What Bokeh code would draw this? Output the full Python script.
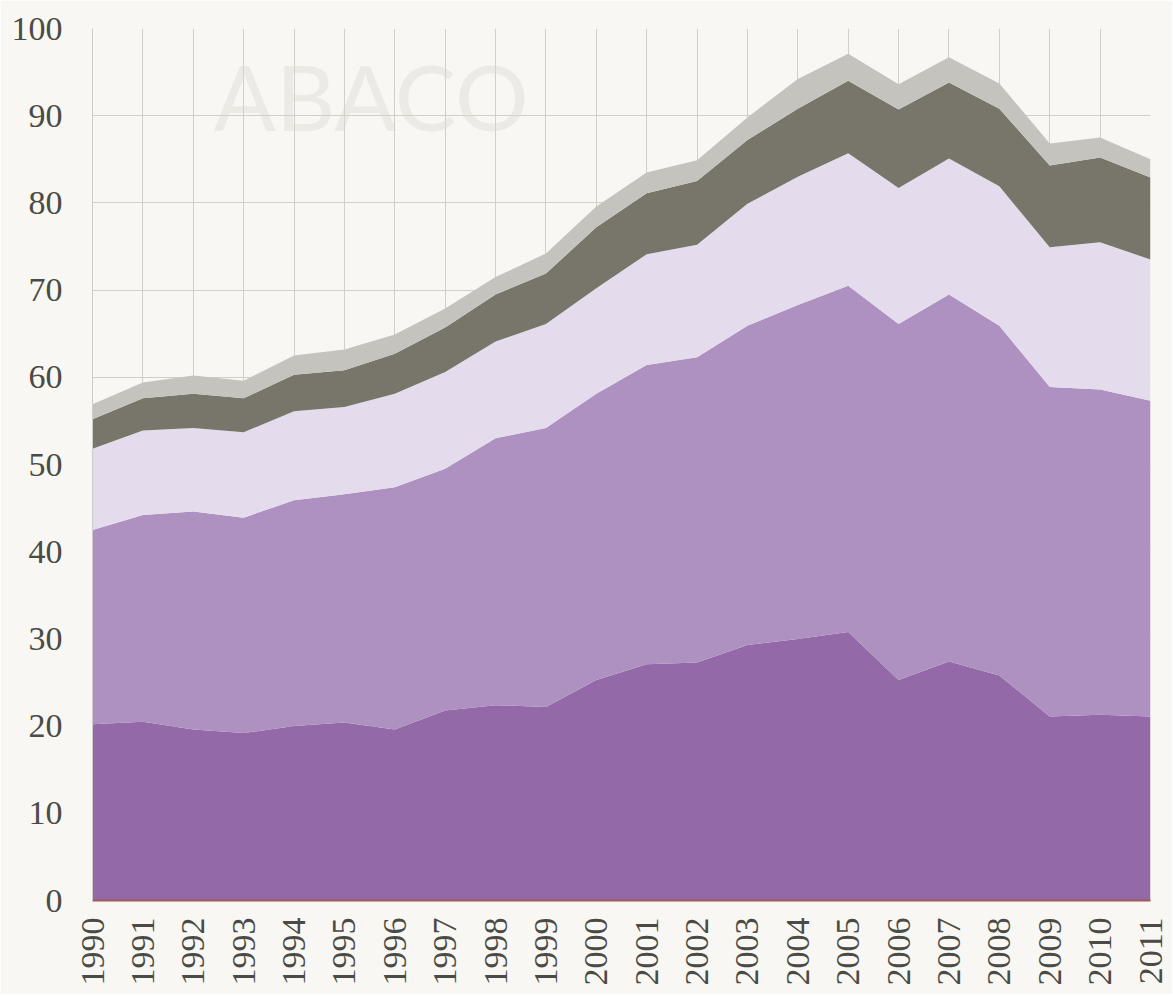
import math
from bokeh.plotting import figure
from bokeh.models import ColumnDataSource, FixedTicker, Range1d, Label
from bokeh.embed import file_html
from bokeh.resources import INLINE

# ---- data ----
years = list(range(1990, 2012))
year_labels = [str(y) for y in years]
y_ticks = [0, 10, 20, 30, 40, 50, 60, 70, 80, 90, 100]

series_a = [20.2, 20.5, 19.6, 19.2, 20.0, 20.4, 19.6, 21.8, 22.4, 22.2, 25.3,
            27.1, 27.3, 29.3, 30.0, 30.8, 25.3, 27.4, 25.8, 21.1, 21.3, 21.1]
series_b = [22.3, 23.7, 25.0, 24.7, 25.9, 26.2, 27.8, 27.7, 30.6, 32.0, 32.8,
            34.3, 35.0, 36.6, 38.3, 39.7, 40.8, 42.1, 40.1, 37.8, 37.3, 36.2]
series_c = [9.3, 9.7, 9.6, 9.8, 10.2, 10.0, 10.7, 11.1, 11.1, 11.9, 12.1,
            12.7, 12.9, 14.0, 14.7, 15.2, 15.6, 15.6, 16.0, 16.0, 16.9, 16.2]
series_d = [3.4, 3.7, 3.9, 3.9, 4.2, 4.2, 4.6, 5.1, 5.4, 5.8, 7.0,
            7.0, 7.3, 7.3, 7.8, 8.3, 9.0, 8.7, 8.9, 9.4, 9.7, 9.4]
series_e = [1.7, 1.8, 2.1, 2.0, 2.2, 2.4, 2.2, 2.2, 2.0, 2.3, 2.4,
            2.4, 2.4, 2.6, 3.4, 3.1, 2.9, 2.9, 2.9, 2.5, 2.3, 2.1]

names = ["a", "b", "c", "d", "e"]
colors = ["#9369a8", "#ae91c0", "#e4dcec", "#78766a", "#c4c3bd"]

source = ColumnDataSource(dict(year=years, a=series_a, b=series_b, c=series_c,
                               d=series_d, e=series_e))

BG = "#f8f7f3"
TXT = "#4b4b45"
GRID = "#d2cfc8"

p = figure(frame_width=1058, frame_height=872,
           min_border_left=92, min_border_right=22, min_border_top=28,
           min_border_bottom=94,
           x_range=Range1d(1990, 2011), y_range=Range1d(0, 100),
           output_backend="svg", toolbar_location=None,
           background_fill_color=BG, border_fill_color=BG)
p.outline_line_color = None

# watermark
p.add_layout(Label(x=1992.4, y=86.0, text="ABACO", text_font="Lato",
                   text_font_size="92px", text_color="#d9d6d0", text_alpha=0.4,
                   level="underlay"))

p.varea_stack(stackers=names, x="year", color=colors, source=source)

# grids
p.xgrid.ticker = FixedTicker(ticks=years)
p.ygrid.ticker = FixedTicker(ticks=y_ticks)
for g in (p.xgrid, p.ygrid):
    g.grid_line_color = GRID
    g.grid_line_width = 1

# x axis
p.xaxis.ticker = FixedTicker(ticks=years)
p.xaxis.major_label_overrides = {y: l for y, l in zip(years, year_labels)}
p.xaxis.major_label_orientation = math.pi / 2
p.xaxis.axis_line_color = "#a05a58"
p.xaxis.axis_line_width = 2
p.xaxis.major_tick_line_color = None
p.xaxis.minor_tick_line_color = None
p.xaxis.major_tick_out = 0
p.xaxis.major_tick_in = 0
p.xaxis.major_label_standoff = 17

# y axis
p.yaxis.ticker = FixedTicker(ticks=y_ticks)
p.yaxis.axis_line_color = "#cfccc5"
p.yaxis.major_tick_line_color = None
p.yaxis.minor_tick_line_color = None
p.yaxis.major_tick_out = 0
p.yaxis.major_tick_in = 0
p.yaxis.major_label_standoff = 30

for ax in (p.xaxis, p.yaxis):
    ax.major_label_text_font = "Liberation Serif"
    ax.major_label_text_font_size = "34px"
    ax.major_label_text_color = TXT

open("out.html", "w").write(file_html(p, INLINE))
